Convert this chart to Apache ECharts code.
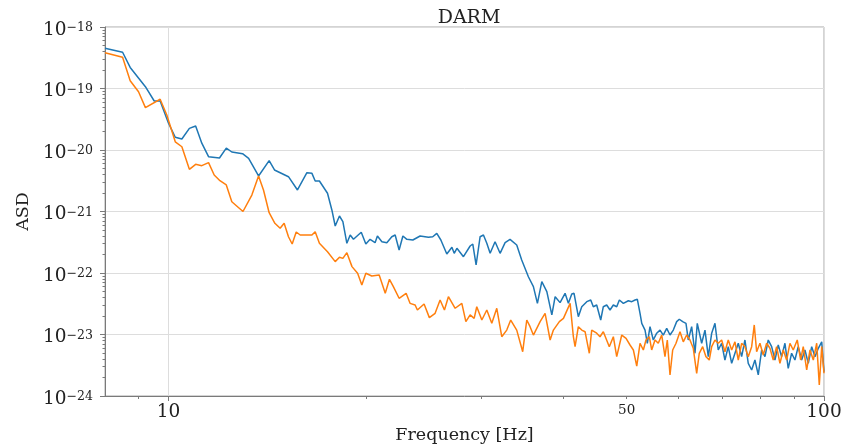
<!DOCTYPE html>
<html>
<head>
<meta charset="utf-8">
<script src="https://cdn.jsdelivr.net/npm/echarts@6/dist/echarts.min.js"></script>
<style>
  html, body { margin: 0; padding: 0; background: #ffffff; }
  #chart { width: 841px; height: 444px; }
</style>
</head>
<body>
<div id="chart"></div>
<script>
// DARM amplitude spectral density, two measurements (Hz, strain/sqrt(Hz))
const freqBlue = [8.0, 8.51, 8.74, 9.22, 9.51, 9.71, 10.0, 10.24, 10.48, 10.76,
  11.0, 11.24, 11.51, 11.96, 12.25, 12.49, 12.97, 13.25, 13.72, 14.24,
  14.51, 15.24, 15.73, 16.26, 16.55, 16.74, 16.99, 17.48, 17.75, 17.96,
  18.23, 18.45, 18.71, 18.93, 19.15, 19.68, 20.0, 20.3, 20.66, 20.83,
  21.16, 21.53, 21.91, 22.17, 22.48, 22.78, 23.1, 23.59, 24.2, 24.92,
  25.3, 25.66, 26.03, 26.58, 27.06, 27.28, 27.54, 28.18, 28.85, 29.12,
  29.46, 29.88, 30.23, 30.59, 30.95, 31.49, 32.05, 32.62, 33.19, 33.98,
  34.58, 35.4, 36.03, 36.54, 37.11, 37.77, 38.44, 38.89, 39.57, 40.27,
  40.74, 41.23, 41.56, 42.19, 42.7, 43.46, 44.07, 44.47, 45.0, 45.64,
  46.06, 46.61, 47.16, 47.71, 48.28, 48.73, 49.42, 50.29, 50.9, 51.49,
  51.91, 52.4, 52.72, 53.33, 53.76, 54.27, 54.9, 55.56, 56.21, 56.86,
  57.55, 58.22, 58.9, 59.6, 60.15, 60.87, 61.58, 62.08, 62.82, 63.56,
  64.07, 65.07, 65.83, 66.6, 67.4, 68.18, 68.97, 69.8, 70.61, 71.44,
  72.3, 73.14, 74.0, 74.88, 75.75, 76.64, 77.56, 78.46, 79.38, 80.33,
  81.27, 82.21, 83.2, 84.17, 85.15, 86.17, 87.18, 88.19, 89.25, 90.29,
  91.34, 92.45, 93.53, 94.63, 95.77, 96.89, 98.02, 99.2, 100.0];

const asdBlue = [4.5e-19, 3.88e-19, 2.2e-19, 1.07e-19, 6.26e-20, 6.26e-20, 2.72e-20, 1.61e-20, 1.51e-20, 2.25e-20,
  2.46e-20, 1.29e-20, 7.78e-21, 7.41e-21, 1.07e-20, 9.28e-21, 8.7e-21, 7.33e-21, 3.78e-21, 6.7e-21,
  4.73e-21, 3.68e-21, 2.24e-21, 4.27e-21, 4.17e-21, 3.13e-21, 3.13e-21, 1.98e-21, 1.06e-21, 5.81e-22,
  8.45e-22, 6.83e-22, 3.04e-22, 4.15e-22, 3.53e-22, 4.59e-22, 2.96e-22, 3.53e-22, 3.11e-22, 4.0e-22,
  3.23e-22, 3.11e-22, 3.89e-22, 4.15e-22, 2.37e-22, 4.0e-22, 3.53e-22, 3.44e-22, 4.0e-22, 3.81e-22,
  3.89e-22, 4.42e-22, 3.44e-22, 2.04e-22, 2.62e-22, 2.09e-22, 2.52e-22, 1.84e-22, 2.75e-22, 2.96e-22,
  1.35e-22, 3.89e-22, 4.15e-22, 3.04e-22, 2.09e-22, 3.23e-22, 2.09e-22, 3.11e-22, 3.53e-22, 2.85e-22,
  1.63e-22, 8.7e-23, 5.99e-23, 3.21e-23, 7.22e-23, 4.97e-23, 2.08e-23, 4.12e-23, 3.3e-23, 4.68e-23,
  3.21e-23, 4.55e-23, 4.68e-23, 1.95e-23, 2.83e-23, 3.42e-23, 3.64e-23, 2.83e-23, 3.02e-23, 1.72e-23,
  2.83e-23, 3.02e-23, 2.5e-23, 3.02e-23, 2.83e-23, 3.64e-23, 3.21e-23, 3.54e-23, 3.42e-23, 3.64e-23,
  3.74e-23, 2.21e-23, 1.52e-23, 1.18e-23, 7.2e-24, 1.34e-23, 8.14e-24, 1.05e-23, 1.18e-23, 9.8e-24,
  1.26e-23, 9.8e-24, 1.18e-23, 1.62e-23, 1.77e-23, 1.62e-23, 1.52e-23, 8.14e-24, 1.34e-23, 4.95e-24,
  1.52e-23, 7.2e-24, 1.18e-23, 4.36e-24, 1.05e-23, 1.52e-23, 5.6e-24, 7.2e-24, 3.85e-24, 6.34e-24,
  3.4e-24, 4.95e-24, 7.2e-24, 4.36e-24, 8.14e-24, 3.4e-24, 2.65e-24, 3.85e-24, 2.2e-24, 5.6e-24,
  4.36e-24, 8.14e-24, 6.34e-24, 3.85e-24, 6.75e-24, 4.36e-24, 7.2e-24, 2.82e-24, 4.95e-24, 3.85e-24,
  6.34e-24, 3.85e-24, 5.6e-24, 3.4e-24, 6.34e-24, 4.36e-24, 5.97e-24, 7.6e-24, 2.48e-24];

const freqOrange = [8.0, 8.51, 8.74, 9.0, 9.22, 9.71, 9.94, 10.24, 10.48, 10.76,
  11.0, 11.24, 11.51, 11.74, 11.98, 12.25, 12.49, 12.99, 13.4, 13.72,
  13.96, 14.24, 14.53, 14.8, 15.01, 15.24, 15.44, 15.66, 15.88, 16.55,
  16.74, 16.99, 17.48, 17.96, 18.23, 18.45, 18.71, 19.05, 19.43, 19.72,
  20.0, 20.42, 20.96, 21.41, 21.73, 22.03, 22.48, 23.04, 23.36, 23.78,
  23.97, 24.54, 25.0, 25.51, 25.96, 26.36, 26.73, 27.37, 28.02, 28.42,
  28.85, 29.26, 29.53, 30.06, 30.59, 31.13, 31.68, 32.24, 32.81, 33.27,
  33.98, 34.7, 35.2, 35.61, 36.03, 36.89, 37.54, 38.21, 38.65, 39.47,
  40.04, 40.99, 41.46, 41.71, 42.19, 42.7, 43.2, 43.85, 44.22, 45.0,
  45.53, 46.06, 47.04, 47.71, 48.28, 49.14, 49.89, 50.59, 51.19, 51.8,
  52.4, 53.01, 53.51, 54.14, 54.59, 55.23, 55.87, 56.55, 57.2, 57.67,
  58.22, 58.77, 59.46, 60.3, 61.0, 61.73, 62.45, 63.18, 63.94, 64.52,
  65.3, 66.06, 66.83, 67.4, 68.18, 68.97, 69.8, 70.61, 71.44, 72.3,
  73.14, 74.0, 74.88, 75.75, 76.64, 77.56, 78.27, 78.93, 79.85, 80.78,
  81.75, 82.71, 83.67, 84.67, 85.66, 86.66, 87.7, 88.72, 89.76, 91.03,
  92.12, 92.97, 94.1, 95.2, 96.31, 97.47, 98.36, 99.2, 100.0];

const asdOrange = [3.82e-19, 3.21e-19, 1.34e-19, 8.87e-20, 4.88e-20, 6.68e-20, 3.71e-20, 1.36e-20, 1.13e-20, 4.85e-21,
  5.85e-21, 5.56e-21, 6.22e-21, 3.92e-21, 3.17e-21, 2.7e-21, 1.44e-21, 1.0e-21, 1.85e-21, 3.78e-21,
  2.24e-21, 9.55e-22, 6.43e-22, 5.33e-22, 6.43e-22, 3.89e-22, 2.96e-22, 4.64e-22, 4.15e-22, 4.15e-22,
  4.7e-22, 3.04e-22, 2.22e-22, 1.53e-22, 1.8e-22, 1.73e-22, 2.14e-22, 1.27e-22, 9.9e-23, 6.38e-23,
  9.9e-23, 8.94e-23, 9.28e-23, 4.68e-23, 7.9e-23, 5.99e-23, 3.88e-23, 4.68e-23, 3.21e-23, 3.02e-23,
  2.5e-23, 3.13e-23, 1.88e-23, 2.21e-23, 3.64e-23, 2.5e-23, 4.12e-23, 2.67e-23, 3.21e-23, 1.62e-23,
  2.08e-23, 1.83e-23, 2.83e-23, 1.72e-23, 2.5e-23, 1.52e-23, 2.67e-23, 9.2e-24, 1.18e-23, 1.72e-23,
  1.18e-23, 5.25e-24, 1.72e-23, 1.34e-23, 9.8e-24, 1.62e-23, 2.21e-23, 8.14e-24, 1.18e-23, 1.62e-23,
  1.83e-23, 3.21e-23, 9.2e-24, 6.34e-24, 1.34e-23, 1.18e-23, 1.11e-23, 4.95e-24, 1.18e-23, 1.05e-23,
  9.2e-24, 1.11e-23, 6.34e-24, 9.2e-24, 4.36e-24, 9.8e-24, 8.67e-24, 6.75e-24, 5.6e-24, 3.07e-24,
  7.2e-24, 5.6e-24, 8.14e-24, 9.2e-24, 5.6e-24, 8.14e-24, 7.2e-24, 9.8e-24, 4.36e-24, 8.14e-24,
  2.2e-24, 5.6e-24, 7.2e-24, 1.11e-23, 7.6e-24, 9.8e-24, 8.14e-24, 5.97e-24, 2.34e-24, 4.95e-24,
  6.34e-24, 4.36e-24, 3.85e-24, 6.34e-24, 8.14e-24, 7.2e-24, 8.14e-24, 5.25e-24, 8.14e-24, 5.6e-24,
  7.6e-24, 3.85e-24, 7.2e-24, 6.34e-24, 4.36e-24, 6.34e-24, 1.43e-23, 5.25e-24, 7.2e-24, 4.64e-24,
  7.2e-24, 5.97e-24, 3.85e-24, 6.34e-24, 3.4e-24, 5.6e-24, 3.85e-24, 7.2e-24, 5.6e-24, 8.14e-24,
  3.85e-24, 6.34e-24, 2.65e-24, 5.6e-24, 3.85e-24, 7.2e-24, 1.51e-24, 6.34e-24, 2.34e-24];

// Axis ticks
const xMajorTicks = [10, 100];
const xMinorTicks = [9, 20, 30, 40, 50, 60, 70, 80, 90];
const xTickLabels = [10, 50, 100];
const yDecades = [1e-24, 1e-23, 1e-22, 1e-21, 1e-20, 1e-19, 1e-18];
const yMinorTicks = [];
yDecades.slice(0, -1).forEach(function (d) {
  for (let k = 2; k <= 9; k++) yMinorTicks.push(d * k);
});

const SERIF = 'DejaVu Serif';
const TEXT = '#222222';
const SPINE = '#7a7a7a';
const GRID = '#dddddd';

function pairs(xs, ys) {
  return xs.map(function (x, i) { return [x, ys[i]]; });
}

const chart = echarts.init(document.getElementById('chart'), null, { renderer: 'canvas' });

chart.setOption({
  animation: false,
  backgroundColor: '#ffffff',
  title: {
    text: 'DARM',
    left: 464,
    top: 4,
    textAlign: 'center',
    textStyle: { fontFamily: SERIF, fontSize: 19, fontWeight: 'normal', color: TEXT }
  },
  grid: {
    left: 105, right: 17, top: 27, bottom: 48,
    outerBoundsMode: 'none',
    containLabel: false,
    show: true, borderColor: '#a8a8a8', borderWidth: 1, backgroundColor: 'transparent'
  },
  xAxis: [
    {
      type: 'log', logBase: 10, min: 8, max: 100,
      name: 'Frequency [Hz]', nameLocation: 'middle', nameGap: 28,
      nameTextStyle: { fontFamily: SERIF, fontSize: 17.5, color: TEXT },
      axisLine: { show: true, lineStyle: { color: SPINE, width: 1 } },
      axisTick: { show: true, length: 5, lineStyle: { color: SPINE }, customValues: xMajorTicks },
      axisLabel: {
        show: true, margin: 7, customValues: xTickLabels,
        formatter: function (v) {
          const r = Math.round(v);
          return r === 50 ? '{m|50}' : '{b|' + r + '}';
        },
        rich: {
          b: { fontFamily: SERIF, fontSize: 18.5, color: TEXT },
          m: { fontFamily: SERIF, fontSize: 13.5, color: TEXT, padding: [0, 0, 5, 0] }
        }
      },
      splitLine: { show: true, lineStyle: { color: GRID, width: 1 } }
    },
    {
      type: 'log', logBase: 10, min: 8, max: 100, position: 'bottom',
      axisLine: { show: false },
      axisTick: { show: true, length: 3, lineStyle: { color: SPINE }, customValues: xMinorTicks },
      axisLabel: { show: false },
      splitLine: { show: false }
    }
  ],
  yAxis: [
    {
      type: 'log', logBase: 10, min: 1e-24, max: 1e-18,
      name: 'ASD', nameLocation: 'middle', nameGap: 73, nameRotate: 90,
      nameTextStyle: { fontFamily: SERIF, fontSize: 17.5, color: TEXT },
      axisLine: { show: true, lineStyle: { color: SPINE, width: 1 } },
      axisTick: { show: true, length: 5, lineStyle: { color: SPINE }, customValues: yDecades },
      axisLabel: {
        show: true, margin: 12, customValues: yDecades,
        padding: [7, 0, 0, 0],
        formatter: function (v) {
          const e = Math.round(Math.log10(v));
          return '{b|10}{s|\u2212' + Math.abs(e) + '}';
        },
        rich: {
          b: { fontFamily: SERIF, fontSize: 18.5, color: TEXT, lineHeight: 18, verticalAlign: 'bottom' },
          s: { fontFamily: SERIF, fontSize: 12.5, color: TEXT, lineHeight: 12, verticalAlign: 'top' }
        }
      },
      splitLine: { show: true, lineStyle: { color: GRID, width: 1 } }
    },
    {
      type: 'log', logBase: 10, min: 1e-24, max: 1e-18, position: 'left',
      axisLine: { show: false },
      axisTick: { show: true, length: 2.5, lineStyle: { color: SPINE }, customValues: yMinorTicks },
      axisLabel: { show: false },
      splitLine: { show: false }
    }
  ],
  series: [
    {
      name: 'DARM (blue)', type: 'line', xAxisIndex: 0, yAxisIndex: 0,
      data: pairs(freqBlue, asdBlue),
      showSymbol: false, symbol: 'none',
      lineStyle: { color: '#1f77b4', width: 1.5 },
      clip: true
    },
    {
      name: 'DARM (orange)', type: 'line', xAxisIndex: 0, yAxisIndex: 0,
      data: pairs(freqOrange, asdOrange),
      showSymbol: false, symbol: 'none',
      lineStyle: { color: '#ff7f0e', width: 1.5 },
      clip: true
    }
  ]
});
</script>
</body>
</html>
